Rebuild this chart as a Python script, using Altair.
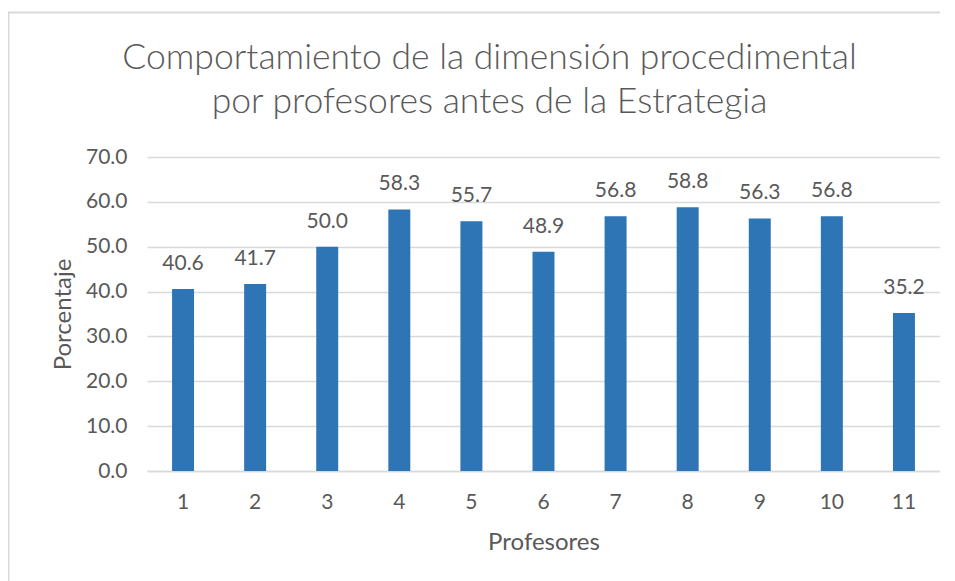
import altair as alt
import pandas as pd

profesores = ["1", "2", "3", "4", "5", "6", "7", "8", "9", "10", "11"]
porcentaje = [40.6, 41.7, 50.0, 58.3, 55.7, 48.9, 56.8, 58.8, 56.3, 56.8, 35.2]
title_lines = ["Comportamiento de la dimensión procedimental",
               "por profesores antes de la Estrategia"]
y_ticks = [0, 10, 20, 30, 40, 50, 60, 70]

df = pd.DataFrame({"Profesores": profesores, "Porcentaje": porcentaje})

FONT = "Lato"
GREY = "#595959"
GRID = "#d9d9d9"
BLUE = "#2e75b6"

x = alt.X("Profesores:N", sort=profesores,
          scale=alt.Scale(paddingInner=0.695, paddingOuter=0.3475),
          axis=alt.Axis(title="Profesores", labelAngle=0, labelFontSize=21,
                        labelColor=GREY, labelFont=FONT, labelPadding=20,
                        ticks=False, domainColor=GRID, domainWidth=1.5,
                        titleFont=FONT, titleFontSize=24, titleColor=GREY,
                        titleFontWeight="normal", titlePadding=18))
y = alt.Y("Porcentaje:Q", scale=alt.Scale(domain=[0, 70], nice=False),
          axis=alt.Axis(title="Porcentaje", values=y_ticks, format=".1f",
                        labelFontSize=21, labelColor=GREY, labelFont=FONT,
                        labelPadding=20, ticks=False, domain=False,
                        gridColor=GRID, gridWidth=1.5,
                        titleFont=FONT, titleFontSize=24, titleColor=GREY,
                        titleFontWeight="normal", titlePadding=10))

base = alt.Chart(df)
bars = base.mark_bar(color=BLUE).encode(x=x, y=y)
labels = base.mark_text(font=FONT, fontSize=21, color=GREY, baseline="alphabetic",
                        dy=-19).encode(x=x, y=y, text=alt.Text("Porcentaje:Q", format=".1f"))

border = alt.Chart(pd.DataFrame({"a": [0]})).mark_rect(
    fill=None, stroke=GRID, strokeWidth=2).encode(
    x=alt.value(-138.5), x2=alt.value(900), y=alt.value(-144.5), y2=alt.value(600))

chart = alt.layer(border, bars, labels).properties(
    width=793, height=314,
    title=alt.TitleParams(text=title_lines, font=FONT, fontSize=35.5, fontWeight=300,
                          color=GREY, lineHeight=44, anchor="middle", frame="group",
                          baseline="alphabetic", dx=-54, offset=-137),
    padding={"left": 139, "top": 149, "right": 0, "bottom": 110},
    autosize=alt.AutoSizeParams(type="none"),
).configure_view(stroke=None)

chart.save("out.html", embed_options={"renderer": "svg", "actions": False})
